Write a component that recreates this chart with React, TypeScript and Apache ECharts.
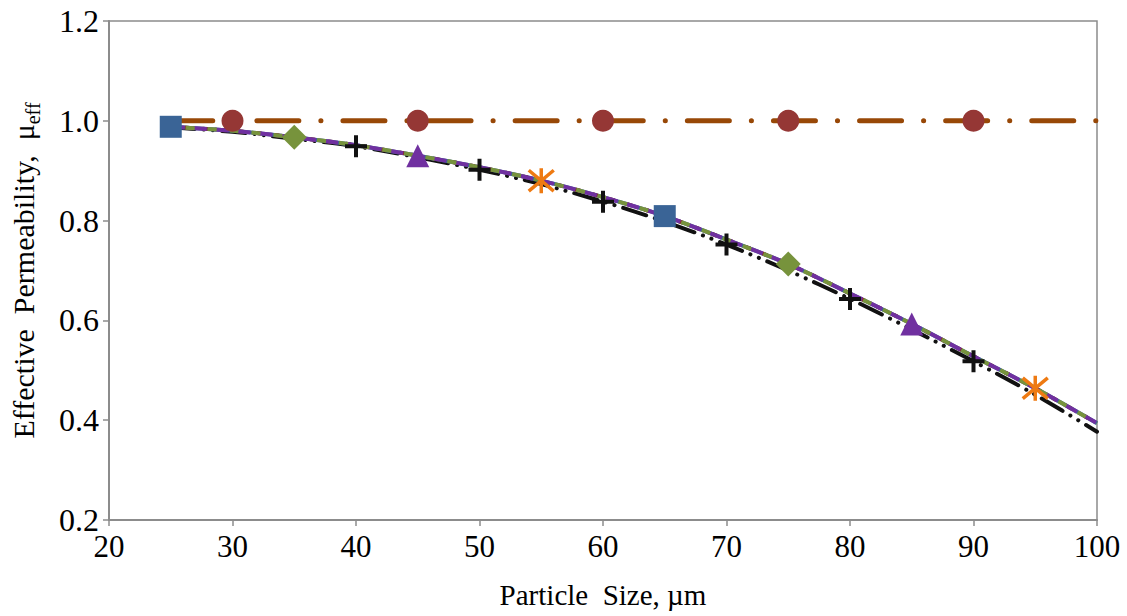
import React, { useEffect, useRef } from "react";
import * as echarts from "echarts";

// Particle size (µm) sampling of the curves
const sizes = [25, 30, 35, 40, 45, 50, 55, 60, 65, 70, 75, 80, 85, 90, 95, 100];
// Overlapping model curves (blue / dark red / green / purple / orange)
const modelCurve = [0.988, 0.98, 0.967, 0.951, 0.93, 0.907, 0.88, 0.847, 0.809, 0.762, 0.713, 0.654, 0.593, 0.528, 0.464, 0.394];
// Black dash-dot-dot curve
const blackCurve = [0.987, 0.978, 0.964, 0.949, 0.927, 0.902, 0.873, 0.838, 0.798, 0.752, 0.7, 0.643, 0.582, 0.518, 0.451, 0.377];
// Constant brown line
const flatCurve = [1, 1, 1, 1, 1, 1, 1, 1, 1, 1, 1, 1, 1, 1, 1, 1];

// Marker positions
const squareX = [25, 65];
const diamondX = [35, 75];
const triangleX = [45, 85];
const asteriskX = [55, 95];
const circleX = [30, 45, 60, 75, 90];
const crossX = [40, 50, 60, 70, 80, 90];

const xTicks = { min: 20, max: 100, interval: 10 };
const yTicks = { min: 0.2, max: 1.2, interval: 0.2 };

const FONT = "Liberation Serif";

function pairs(ys: number[]) {
  return sizes.map((x, i) => [x, ys[i]]);
}
function pick(xs: number[], ys: number[]) {
  return xs.map((x) => [x, ys[sizes.indexOf(x)]]);
}

export default function App() {
  const ref = useRef<HTMLDivElement>(null);
  useEffect(() => {
    if (!ref.current) return;
    const chart = echarts.init(ref.current, undefined, { renderer: "svg" });
    const modelLine = (color: string, width: number, type: any, offset = 0, z = 3) => ({
      type: "line",
      data: pairs(modelCurve),
      showSymbol: false,
      smooth: 0.3,
      z,
      lineStyle: { color, width, type, dashOffset: offset, cap: "butt" },
    });
    const markers = (xs: number[], ys: number[], symbol: string, size: number, fill: string, border?: string, bw = 0) => ({
      type: "scatter",
      data: pick(xs, ys),
      symbol,
      symbolSize: size,
      z: 10,
      itemStyle: { color: fill, borderColor: border || fill, borderWidth: bw, opacity: 1 },
    });
    chart.setOption({
      animation: false,
      backgroundColor: "#ffffff",
      textStyle: { fontFamily: FONT },
      grid: {
        left: 108,
        right: 30,
        top: 21,
        bottom: 96,
        show: true,
        borderColor: "#8c8c8c",
        borderWidth: 1.5,
      },
      xAxis: {
        type: "value",
        min: xTicks.min,
        max: xTicks.max,
        interval: xTicks.interval,
        name: "Particle  Size, µm",
        nameLocation: "middle",
        nameGap: 60,
        nameTextStyle: { fontFamily: FONT, fontSize: 29, color: "#000" },
        axisLine: { show: true, lineStyle: { color: "#8c8c8c", width: 2 } },
        axisTick: { show: true, length: 6, lineStyle: { color: "#8c8c8c", width: 1.5 } },
        axisLabel: { fontFamily: FONT, fontSize: 31, color: "#000", margin: 11 },
        splitLine: { show: false },
      },
      yAxis: {
        type: "value",
        min: yTicks.min,
        max: yTicks.max,
        interval: yTicks.interval,
        name: "{a|Effective  Permeability,  μ}{s|eff}",
        nameLocation: "middle",
        nameRotate: 90,
        nameGap: 66,
        nameTextStyle: {
          fontFamily: FONT,
          color: "#000",
          rich: {
            a: { fontFamily: FONT, fontSize: 30, color: "#000", verticalAlign: "bottom", padding: [0, 0, 5, 0] },
            s: { fontFamily: FONT, fontSize: 20, color: "#000", verticalAlign: "bottom" },
          },
        },
        axisLine: { show: true, lineStyle: { color: "#8c8c8c", width: 2 } },
        axisTick: { show: true, length: 6, lineStyle: { color: "#8c8c8c", width: 1.5 } },
        axisLabel: {
          fontFamily: FONT,
          fontSize: 32,
          color: "#000",
          margin: 10,
          formatter: (v: number) => v.toFixed(1),
        },
        splitLine: { show: false },
      },
      series: [
        {
          type: "line",
          data: pairs(blackCurve),
          showSymbol: false,
          smooth: 0.3,
          z: 2,
          lineStyle: { color: "#111111", width: 4, type: [24, 9, 0.1, 9, 0.1, 9], cap: "round" },
        },
        modelLine("#3B6496", 4, "solid", 0, 3),
        modelLine("#8B2E2E", 4, [5, 13], 4, 4),
        modelLine("#7030A0", 4, [14, 8], 0, 5),
        modelLine("#77933C", 4, [9, 13], 7, 6),
        {
          type: "line",
          data: pairs(flatCurve),
          showSymbol: false,
          z: 4,
          lineStyle: { color: "#984807", width: 5, type: [42, 22, 0.1, 22], cap: "round" },
        },
        markers(squareX, modelCurve, "rect", 22, "#3A6496"),
        markers(diamondX, modelCurve, "diamond", 25, "#77933C"),
        markers(triangleX, modelCurve, "triangle", 23, "#7030A0"),
        markers(asteriskX, modelCurve, "path://M0,0L20,20M20,0L0,20M10,-2L10,22", 25, "transparent", "#EE7A12", 3.5),
        markers(circleX, flatCurve, "circle", 22, "#953735"),
        markers(crossX, blackCurve, "path://M10,0L10,20M0,10L20,10", 22, "transparent", "#111111", 4),
      ],
    });
    return () => chart.dispose();
  }, []);
  return (
    <div
      ref={ref}
      style={{ position: "fixed", left: 0, top: 0, width: 1127, height: 616, background: "#fff" }}
    />
  );
}
